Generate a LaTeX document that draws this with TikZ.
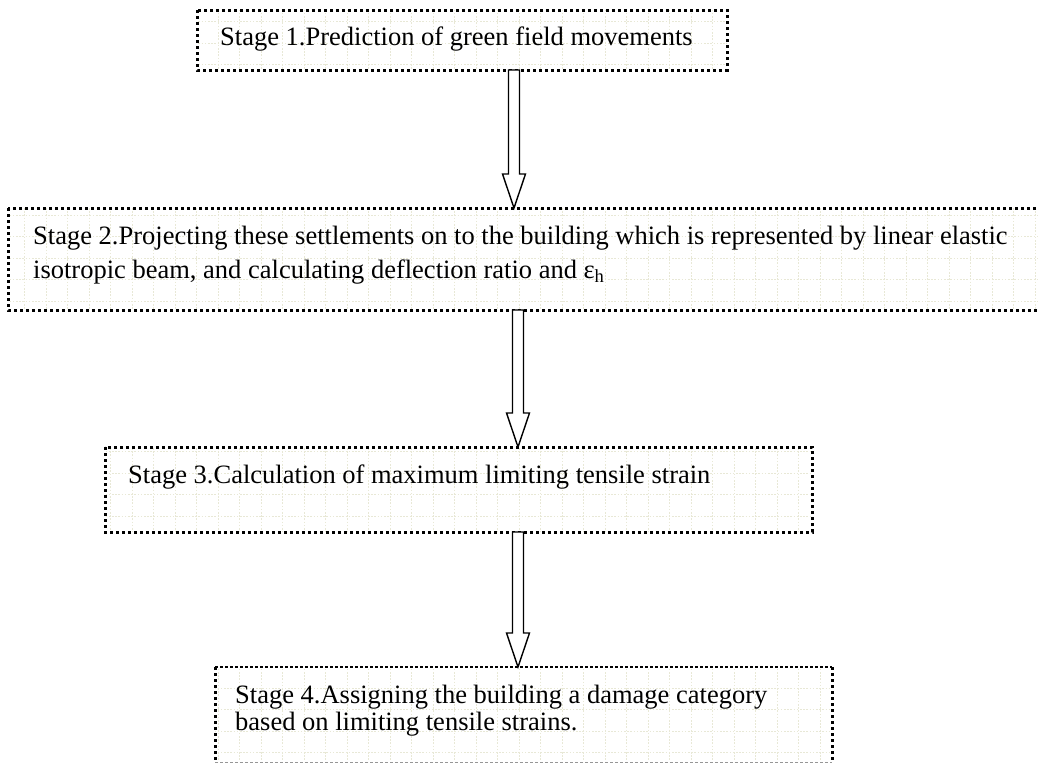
\documentclass[tikz,border=0pt]{standalone}
\usepackage{fontspec}
\setmainfont{Liberation Serif}
\usetikzlibrary{calc}
\definecolor{gridc}{RGB}{232,232,214}
\definecolor{edgegray}{RGB}{150,150,150}
\tikzset{
  boxshape/.style={rectangle, inner sep=0pt, outer sep=0pt, anchor=north west},
  thickdot/.style={line width=3pt, dash pattern=on 3pt off 3pt, line cap=butt},
  thindot/.style={line width=2.2pt, dash pattern=on 2.5pt off 2.5pt, line cap=butt},
  thindash/.style={line width=0.8pt, edgegray, dash pattern=on 3pt off 2pt},
  gridline/.style={gridc, line width=1pt, dash pattern=on 1.6pt off 1.6pt},
  stagetext/.style={anchor=base west, inner sep=0pt, font=\fontsize{26.5pt}{30pt}\selectfont},
  hollow/.style={draw=black, fill=white, line width=1.4pt, line join=miter},
}
\newcommand\hollowarrow[2]{%
  \path[hollow] let \p1=(#1), \p2=(#2) in
    (\x1-5.5pt,\y1) -- (\x1-5.5pt,\y2+34pt) -- (\x1-11.5pt,\y2+34pt) -- (\x1,\y2)
    -- (\x1+11.5pt,\y2+34pt) -- (\x1+5.5pt,\y2+34pt) -- (\x1+5.5pt,\y1) -- cycle;}
\begin{document}
\begin{tikzpicture}[x=1pt,y=-1pt]
\useasboundingbox (0,0) rectangle (1039,763);
\clip (0,0) rectangle (1039,763);
% boxes
\node[boxshape, minimum width=530pt, minimum height=60pt] (b1) at (197,10) {};
\node[boxshape, minimum width=1042pt, minimum height=102pt] (b2) at (8,208) {};
\node[boxshape, minimum width=707pt, minimum height=85pt] (b3) at (105,447) {};
\node[boxshape, minimum width=617pt, minimum height=95pt] (b4) at (215,667) {};
% faint grid inside boxes
\begin{scope}
  \clip (b1.north west) rectangle (b1.south east)
        (b2.north west) rectangle (b2.south east)
        (b3.north west) rectangle (b3.south east)
        (b4.north west) rectangle (b4.south east);
  \foreach \x in {3,24.5,...,1060} \draw[gridline] (\x,0) -- (\x,763);
  \foreach \y in {0,21.5,...,780} \draw[gridline] (0,\y) -- (1039,\y);
\end{scope}
% borders
\draw[thickdot] (b1.north west) rectangle (b1.south east);
\draw[thickdot] (b2.north west) rectangle (b2.south east);
\draw[thickdot] (b3.north west) rectangle (b3.south east);
\draw[thindot] (b4.north west) -- (b4.north east);
\draw[thickdot] (b4.north west) -- (b4.south west);
\draw[thickdot] (b4.north east) -- (b4.south east);
\draw[thindash] (b4.south west) -- (b4.south east);
% texts
\node[stagetext] (t1) at (220,45) {Stage 1.Prediction of green field movements};
\node[stagetext] (t2a) at (33,244) {Stage 2.Projecting these settlements on to the building which is represented by linear elastic};
\node[stagetext] (t2b) at (33,278) {isotropic beam, and calculating deflection ratio and ε\textsubscript{h}};
\node[stagetext] (t3) at (128,483) {Stage 3.Calculation of maximum limiting tensile strain};
\node[stagetext] (t4a) at (235,703) {Stage 4.Assigning the building a damage category};
\node[stagetext] (t4b) at (235,730) {based on limiting tensile strains.};
% connectors
\coordinate (a1s) at ($(b1.south west)+(317,0)$);
\coordinate (a1e) at (a1s |- b2.north);
\coordinate (a2s) at ($(b2.south west)+(510,0)$);
\coordinate (a2e) at (a2s |- b3.north);
\coordinate (a3s) at ($(b3.south west)+(413,0)$);
\coordinate (a3e) at (a3s |- b4.north);
\hollowarrow{a1s}{a1e}
\hollowarrow{a2s}{a2e}
\hollowarrow{a3s}{a3e}
\end{tikzpicture}
\end{document}
